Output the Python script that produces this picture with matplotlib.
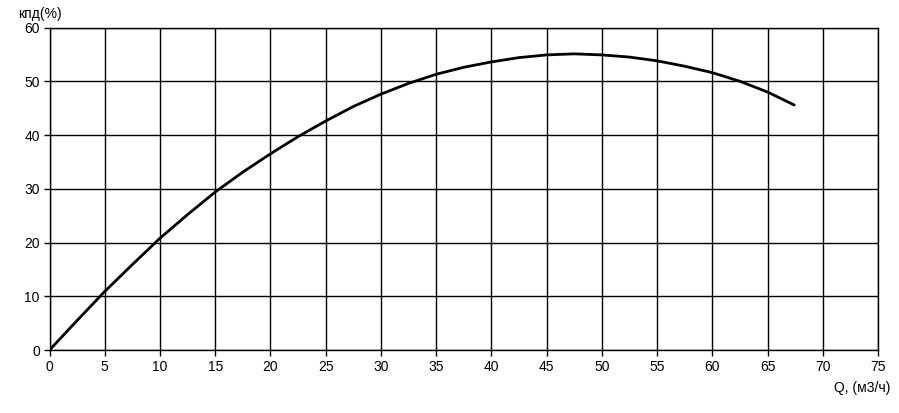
import matplotlib
matplotlib.use("Agg")
import matplotlib.pyplot as plt

q = [0, 2.5, 5, 7.5, 10, 12.5, 15, 17.5, 20, 22.5, 25, 27.5, 30, 32.5, 35, 37.5,
     40, 42.5, 45, 47.5, 50, 52.5, 55, 57.5, 60, 62.5, 65, 67.5]
eff = [0, 5.5, 10.9, 15.9, 20.8, 25.2, 29.4, 33.1, 36.5, 39.7, 42.6, 45.3, 47.6, 49.6, 51.3, 52.6,
       53.6, 54.4, 54.9, 55.1, 54.9, 54.5, 53.8, 52.8, 51.6, 50.0, 48.0, 45.5]
xticks = list(range(0, 76, 5))
yticks = list(range(0, 61, 10))

plt.rcParams['font.family'] = ['Liberation Sans', 'DejaVu Sans']
fig = plt.figure(figsize=(8.99, 4.13), dpi=100)
ax = fig.add_axes([0.0551, 0.1525, 0.9215, 0.7809])
ax.plot(q, eff, color='black', lw=2, solid_capstyle='butt')
ax.set_xlim(0, 75)
ax.set_ylim(0, 60)
ax.set_xticks(xticks)
ax.set_yticks(yticks)
ax.grid(True, color='black', lw=1)
ax.set_axisbelow(True)
for s in ax.spines.values():
    s.set_color('black')
    s.set_linewidth(1)
ax.tick_params(direction='out', length=4, width=1, colors='black', labelsize=10, pad=3)
fig.text(0.02, 0.965, 'кпд(%)', fontsize=10, ha='left', va='center')
fig.text(0.99, 0.06, 'Q, (м3/ч)', fontsize=10, ha='right', va='center')
fig.savefig('out.png', dpi=100)
